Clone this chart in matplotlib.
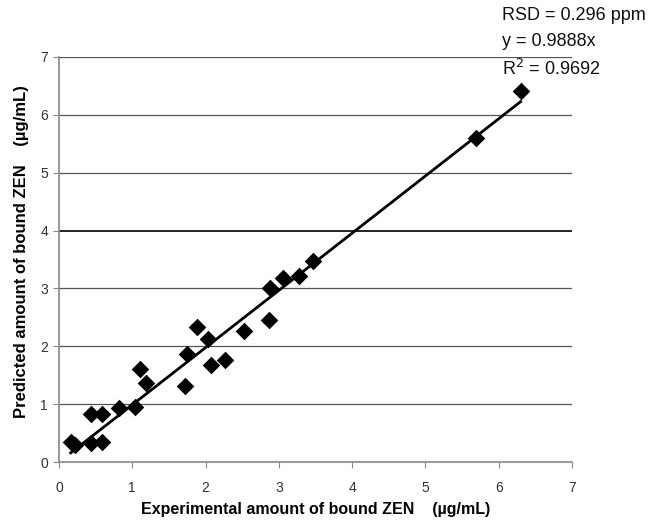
import matplotlib
matplotlib.use("Agg")
import matplotlib.pyplot as plt
import numpy as np

plt.rcParams['font.family'] = ['Liberation Sans', 'DejaVu Sans']

experimental = [0.16, 0.22, 0.44, 0.58, 0.44, 0.59, 0.82, 1.04, 1.10, 1.19,
                1.72, 1.74, 1.88, 2.03, 2.08, 2.26, 2.53, 2.86, 2.88, 3.05,
                3.28, 3.46, 5.69, 6.30]
predicted = [0.345, 0.29, 0.835, 0.835, 0.32, 0.345, 0.927, 0.95, 1.61, 1.37,
             1.31, 1.87, 2.33, 2.12, 1.68, 1.76, 2.27, 2.46, 3.00, 3.18,
             3.22, 3.47, 5.60, 6.41]
slope = 0.9888
ticks = [0, 1, 2, 3, 4, 5, 6, 7]
annot = ["RSD = 0.296 ppm", "y = 0.9888x", "R$^2$ = 0.9692"]

fig = plt.figure(figsize=(6.53, 5.25), dpi=100)
ax = fig.add_axes([59/653, 63/525, (572-59)/653, (462-57)/525])

ax.set_xlim(0, 7)
ax.set_ylim(0, 7)
ax.set_xticks(ticks)
ax.set_yticks(ticks)

for t in ticks[1:]:
    ax.axhline(t, color='black' if t == 4 else '#555555',
               lw=1.2 if t == 4 else 0.9, zorder=1)

xs = np.array([min(experimental), max(experimental)])
ax.plot(xs, slope * xs, color='black', lw=2.0, zorder=2)
ax.scatter(experimental, predicted, marker='D', s=80, color='black', zorder=3,
           linewidths=0)

for s in ['top', 'right']:
    ax.spines[s].set_visible(False)
for s in ['left', 'bottom']:
    ax.spines[s].set_color('#888888')
    ax.spines[s].set_linewidth(1.2)
ax.tick_params(axis='both', direction='out', length=4, color='#888888',
               labelsize=10, labelcolor='#333333')
ax.tick_params(axis='x', pad=10)
ax.tick_params(axis='y', pad=4)

ax.set_xlabel("Experimental amount of bound ZEN    (µg/mL)", fontsize=11.5,
              fontweight='bold', va='center')
ax.set_ylabel("Predicted amount of bound ZEN    (µg/mL)", fontsize=12,
              fontweight='bold', va='center')
ax.xaxis.set_label_coords(0.501, -0.118)
ax.yaxis.set_label_coords(-0.074, 0.52)

ys = [15, 41, 69]
for txt, yp in zip(annot, ys):
    fig.text(502/653, 1 - yp/525, txt, fontsize=13, ha='left', va='center',
             color='#111111')

fig.savefig("out.png", dpi=100)
